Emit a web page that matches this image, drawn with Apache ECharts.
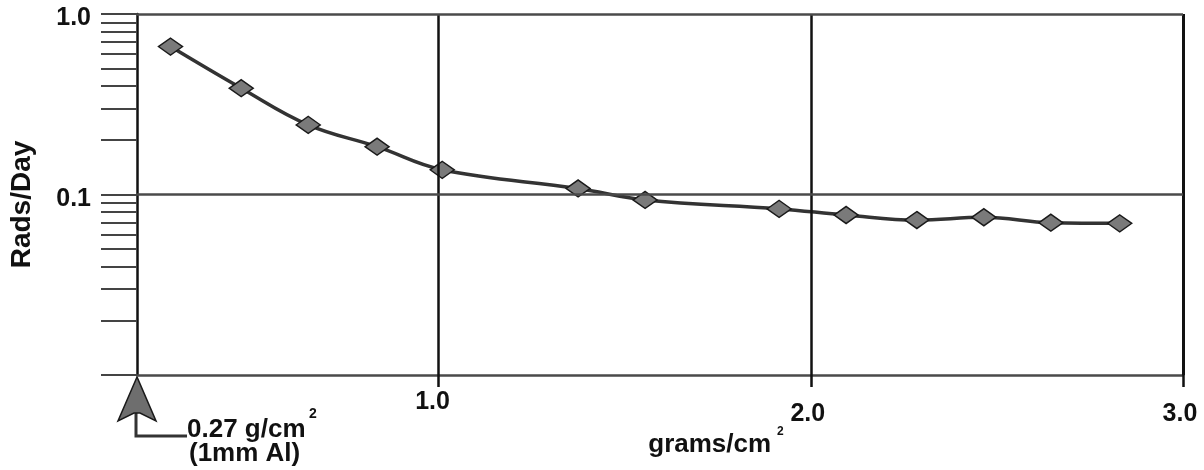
<!DOCTYPE html>
<html>
<head>
<meta charset="utf-8">
<script src="https://cdn.jsdelivr.net/npm/echarts@6/dist/echarts.min.js"></script>
<style>
  html, body { margin: 0; background: #fff; }
  #chart { width: 1204px; height: 470px; }
</style>
</head>
<body>
<div id="chart"></div>
<script>
// shielding thickness (g/cm2) and dose rate (rads/day)
const thickness = [0.28, 0.47, 0.65, 0.835, 1.01, 1.375, 1.555, 1.915, 2.095, 2.285, 2.465, 2.645, 2.83];
const radsPerDay = [0.66, 0.388, 0.243, 0.184, 0.137, 0.108, 0.0933, 0.0832, 0.077, 0.0722, 0.0748, 0.0698, 0.0692];

const xRange = [0.19, 3];
const yRange = [0.01, 1];
const xTickValues = [1, 2, 3];
const yLabelValues = [0.1, 1];
const yTickValues = [0.01, 0.02, 0.03, 0.04, 0.05, 0.06, 0.07, 0.08, 0.09,
                     0.1, 0.2, 0.3, 0.4, 0.5, 0.6, 0.7, 0.8, 0.9, 1];

const FONT = "'Liberation Sans', Arial, Helvetica, sans-serif";
const INK = '#111';
const HATCH = '#4a4a4a';

const chart = echarts.init(document.getElementById('chart'));

const txt = (size, extra) => Object.assign({fontFamily: FONT, fontWeight: 'bold', fontSize: size, color: INK}, extra || {});

chart.setOption({
  animation: false,
  backgroundColor: '#fff',
  grid: {left: 136, right: 21, top: 14, bottom: 95},
  xAxis: {
    type: 'value',
    min: xRange[0],
    max: xRange[1],
    axisLine: {lineStyle: {color: HATCH, width: 2.5}},
    axisTick: {customValues: xTickValues, length: 12, lineStyle: {color: INK, width: 2.5}},
    axisLabel: {
      customValues: xTickValues,
      margin: 15,
      formatter: (v) => v === 1 ? '{hi|1.0}' : '{lo|' + v.toFixed(1) + '}',
      rich: {hi: txt(25, {padding: [0, 12, 0, 0]}), lo: txt(25, {padding: [12, 6, 0, 0]})}
    },
    splitLine: {show: false},
    name: '{t|grams/cm}{s|2}',
    nameLocation: 'middle',
    nameGap: 51,
    nameMoveOverlap: false,
    nameTextStyle: {
      padding: [0, 0, 0, 112],
      rich: {
        t: txt(26, {padding: [6, 0, 0, 0]}),
        s: txt(12, {verticalAlign: 'top', padding: [0, 0, 0, 6]})
      }
    }
  },
  yAxis: {
    type: 'log',
    logBase: 10,
    min: yRange[0],
    max: yRange[1],
    axisLine: {lineStyle: {color: INK, width: 2.5}},
    axisTick: {customValues: yTickValues, length: 36, lineStyle: {color: '#444', width: 2}},
    axisLabel: {
      customValues: yLabelValues,
      margin: 46,
      formatter: (v) => '{v|' + Number(v).toFixed(1) + '}',
      rich: {v: txt(25, {padding: [9, 0, 0, 0]})}
    },
    minorTick: {show: false},
    splitLine: {show: false},
    name: 'Rads/Day',
    nameLocation: 'middle',
    nameGap: 101,
    nameMoveOverlap: false,
    nameRotate: 90,
    nameTextStyle: txt(28, {padding: [0, 20, 0, 0]})
  },
  series: [
    {
      type: 'line',
      data: [],
      z: 1,
      markLine: {
        silent: true,
        symbol: 'none',
        label: {show: false},
        data: [
          {xAxis: 1, lineStyle: {color: INK, width: 2.5, type: 'solid'}},
          {xAxis: 2, lineStyle: {color: INK, width: 2.5, type: 'solid'}},
          {xAxis: 3, lineStyle: {color: INK, width: 3, type: 'solid'}},
          {yAxis: 0.1, lineStyle: {color: HATCH, width: 2.5, type: 'solid'}},
          {yAxis: 1, lineStyle: {color: HATCH, width: 2.5, type: 'solid'}}
        ]
      }
    },
    {
      name: 'Rads/Day',
      type: 'line',
      z: 3,
      data: thickness.map((x, i) => [x, radsPerDay[i]]),
      smooth: 0.4,
      lineStyle: {color: '#333', width: 3.5},
      symbol: 'diamond',
      symbolSize: [24, 17],
      itemStyle: {color: '#7a7a7a', borderColor: '#1a1a1a', borderWidth: 1.5}
    }
  ]
});

// "0.27 g/cm2 (1mm Al)" arrow pointing at the axis origin
const o = chart.convertToPixel({gridIndex: 0}, [xRange[0], yRange[0]]);
chart.setOption({
  graphic: [
    {
      type: 'polyline', silent: true,
      shape: {points: [[o[0] - 1, o[1] + 38], [o[0] - 1, o[1] + 61], [o[0] + 50, o[1] + 61]]},
      style: {stroke: '#333', lineWidth: 3, fill: null}
    },
    {
      type: 'polygon', silent: true,
      shape: {points: [[o[0], o[1] + 2], [o[0] - 19, o[1] + 46], [o[0] - 3, o[1] + 38], [o[0] + 3, o[1] + 38], [o[0] + 19, o[1] + 46]]},
      style: {fill: '#6e6e6e', stroke: '#1a1a1a', lineWidth: 1.5}
    },
    {
      type: 'text', silent: true, x: 187, y: 430,
      style: {text: '0.27 g/cm', font: 'bold 26px ' + FONT, fill: INK, verticalAlign: 'middle'}
    },
    {
      type: 'text', silent: true, x: 309, y: 414,
      style: {text: '2', font: 'bold 14px ' + FONT, fill: INK, verticalAlign: 'middle'}
    },
    {
      type: 'text', silent: true, x: 189, y: 454,
      style: {text: '(1mm Al)', font: 'bold 26px ' + FONT, fill: INK, verticalAlign: 'middle'}
    }
  ]
});
</script>
</body>
</html>
